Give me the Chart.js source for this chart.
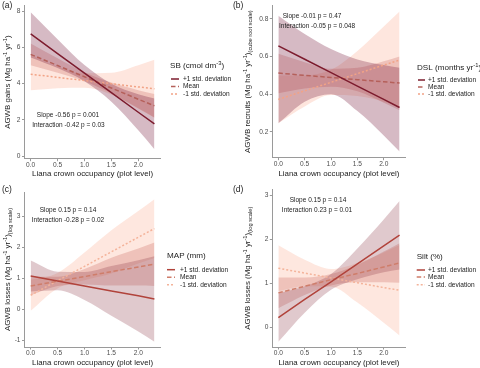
<!DOCTYPE html>
<html><head><meta charset="utf-8">
<script src="https://cdn.jsdelivr.net/npm/chart.js@4/dist/chart.umd.min.js"></script>
<style>
html,body{margin:0;padding:0;background:#fff;width:480px;height:368px;overflow:hidden;position:relative}
.p{position:absolute}
canvas{display:block}
</style></head><body>
<div class="p" style="left:0;top:0"><canvas id="ca" width="240" height="184"></canvas></div>
<div class="p" style="left:232px;top:0"><canvas id="cb" width="248" height="184"></canvas></div>
<div class="p" style="left:0;top:184px"><canvas id="cc" width="240" height="184"></canvas></div>
<div class="p" style="left:232px;top:184px"><canvas id="cd" width="248" height="184"></canvas></div>
<script>
// ---------- shared ----------
const xGrid = [0, 0.5, 1.0, 1.5, 2.0, 2.3];
const xTicks = [0, 0.5, 1.0, 1.5, 2.0];
const seriesNames = ['+1 std. deviation', 'Mean', '-1 std. deviation'];
const xTitle = 'Liana crown occupancy (plot level)';

// ---------- panel (a) ----------
const aPlus    = [6.75, 5.66, 4.58, 3.50, 2.42, 1.78];
const aPlusHi  = [7.95, 6.46, 5.03, 4.00, 3.42, 3.18];
const aPlusLo  = [5.45, 4.86, 4.13, 3.00, 1.42, 0.38];
const aMean    = [5.62, 5.00, 4.38, 3.76, 3.14, 2.78];
const aMeanHi  = [6.22, 5.40, 4.63, 4.06, 3.64, 3.43];
const aMeanLo  = [5.02, 4.60, 4.13, 3.46, 2.64, 2.13];
const aMinus   = [4.52, 4.35, 4.17, 4.00, 3.82, 3.72];
const aMinusHi = [5.60, 4.95, 4.57, 4.60, 5.02, 5.32];
const aMinusLo = [3.64, 3.75, 3.77, 3.40, 2.62, 2.12];
const aYTicks  = [0, 2, 4, 6, 8];

// ---------- panel (b) ----------
const bPlus    = [0.657, 0.586, 0.515, 0.443, 0.372, 0.329];
const bPlusHi  = [0.817, 0.720, 0.640, 0.585, 0.555, 0.540];
const bPlusLo  = [0.245, 0.360, 0.400, 0.310, 0.180, 0.095];
const bMean    = [0.512, 0.500, 0.489, 0.477, 0.466, 0.459];
const bMeanHi  = [0.615, 0.570, 0.535, 0.540, 0.575, 0.600];
const bMeanLo  = [0.405, 0.430, 0.440, 0.415, 0.355, 0.315];
const bMinus   = [0.372, 0.418, 0.463, 0.509, 0.555, 0.581];
const bMinusHi = [0.500, 0.500, 0.530, 0.630, 0.760, 0.840];
const bMinusLo = [0.245, 0.335, 0.395, 0.390, 0.360, 0.330];
const bYTicks  = [0.2, 0.4, 0.6, 0.8];

// ---------- panel (c) ----------
const cPlus    = [1.07, 0.91, 0.75, 0.59, 0.43, 0.33];
const cPlusHi  = [1.57, 1.21, 1.20, 1.39, 1.58, 1.71];
const cPlusLo  = [0.57, 0.61, 0.30, -0.21, -0.72, -1.05];
const cMean    = [0.75, 0.90, 1.05, 1.21, 1.36, 1.45];
const cMeanHi  = [1.05, 1.05, 1.30, 1.66, 1.96, 2.15];
const cMeanLo  = [0.45, 0.75, 0.80, 0.76, 0.76, 0.75];
const cMinus   = [0.45, 0.92, 1.38, 1.85, 2.32, 2.60];
const cMinusHi = [0.95, 1.17, 1.83, 2.55, 3.17, 3.55];
const cMinusLo = [-0.05, 0.67, 0.93, 1.15, 1.47, 1.65];
const cYTicks  = [-1, 0, 1, 2, 3];

// ---------- panel (d) ----------
const dPlus    = [0.22, 0.63, 1.03, 1.44, 1.85, 2.09];
const dPlusHi  = [0.77, 0.93, 1.21, 1.79, 2.45, 2.87];
const dPlusLo  = [-0.33, 0.33, 0.85, 1.09, 1.25, 1.31];
const dMean    = [0.78, 0.93, 1.08, 1.22, 1.37, 1.46];
const dMeanHi  = [1.13, 1.13, 1.21, 1.42, 1.72, 1.91];
const dMeanLo  = [0.43, 0.73, 0.95, 1.02, 1.02, 1.01];
const dMinus   = [1.34, 1.23, 1.12, 1.01, 0.90, 0.84];
const dMinusHi = [1.86, 1.53, 1.32, 1.46, 1.70, 1.87];
const dMinusLo = [0.82, 0.93, 0.92, 0.56, 0.10, -0.19];
const dYTicks  = [0, 1, 2, 3];

const FONT = "'Liberation Sans', Arial, Helvetica, sans-serif";

function segFont(size, k) {
  const s = k === 'n' ? size : size * 0.72;
  return s + 'px ' + FONT;
}
function drawRich(ctx, segs, x, y, size, color, rot, align) {
  ctx.save();
  ctx.translate(x, y);
  if (rot) ctx.rotate(rot);
  const widths = segs.map(s => { ctx.font = segFont(size, s[0]); return ctx.measureText(s[1]).width; });
  const total = widths.reduce((a, b) => a + b, 0);
  let cx = align === 'center' ? -total / 2 : 0;
  ctx.fillStyle = color;
  ctx.textBaseline = 'alphabetic';
  ctx.textAlign = 'left';
  const base = size * 0.36;
  segs.forEach((s, i) => {
    ctx.font = segFont(size, s[0]);
    const dy = s[0] === 'sup' ? -size * 0.42 : s[0] === 'sub' ? size * 0.28 : 0;
    ctx.fillText(s[1], cx, base + dy);
    cx += widths[i];
  });
  ctx.restore();
}

function pts(arr) { return xGrid.map((x, i) => ({x: x, y: arr[i]})); }

function makePanel(P) {
  const specs = [
    {line: P.plus, lo: P.plusLo, hi: P.plusHi, dash: []},
    {line: P.mean, lo: P.meanLo, hi: P.meanHi, dash: [4.5, 2.5]},
    {line: P.minus, lo: P.minusLo, hi: P.minusHi, dash: [2, 2]}
  ];
  const ds = [];
  specs.forEach((s, i) => ds.push({
    label: seriesNames[i], isLine: true, data: pts(s.line), borderColor: P.colors[i],
    borderDash: s.dash, borderWidth: 1.5, pointRadius: 0, fill: false, order: 0, tension: 0
  }));
  specs.forEach((s, i) => {
    const loIdx = ds.length;
    ds.push({label: 'lo' + i, data: pts(s.lo), borderColor: 'transparent', borderWidth: 0,
      pointRadius: 0, fill: false, order: 1, cubicInterpolationMode: 'monotone'});
    ds.push({label: 'hi' + i, data: pts(s.hi), borderColor: 'transparent', borderWidth: 0,
      pointRadius: 0, fill: loIdx, backgroundColor: P.ribbons[i], order: 1, cubicInterpolationMode: 'monotone'});
  });

  const overlay = {
    id: 'overlay',
    afterDraw(chart) {
      const ctx = chart.ctx;
      const ca = chart.chartArea;
      ctx.save();
      ctx.font = '8.5px ' + FONT; ctx.fillStyle = '#222'; ctx.textBaseline = 'middle'; ctx.textAlign = 'left';
      ctx.fillText(P.tag, P.tagX, P.tagY);
      ctx.restore();
      drawRich(ctx, P.yTitle, P.yTitleX, (ca.top + ca.bottom) / 2, 7.9, '#222', -Math.PI / 2, 'center');
      ctx.save();
      ctx.font = '6.5px ' + FONT; ctx.fillStyle = '#222'; ctx.textBaseline = 'middle'; ctx.textAlign = 'center';
      P.notes.forEach(n => ctx.fillText(n[0], n[1], n[2]));
      ctx.restore();
      const L = P.legend;
      drawRich(ctx, L.title, L.x, L.y, 8.1, '#222', 0, 'left');
      chart.data.datasets.filter(d => d.isLine).forEach((d, i) => {
        const yy = L.rows[i];
        ctx.save();
        ctx.strokeStyle = d.borderColor; ctx.lineWidth = 1.5;
        ctx.setLineDash(d.borderDash);
        ctx.beginPath(); ctx.moveTo(L.kx0, yy); ctx.lineTo(L.kx1, yy); ctx.stroke();
        ctx.restore();
        ctx.save();
        ctx.font = '6.6px ' + FONT; ctx.fillStyle = '#222'; ctx.textBaseline = 'middle'; ctx.textAlign = 'left';
        ctx.fillText(d.label, L.tx, yy);
        ctx.restore();
      });
    }
  };

  const axisCommon = {
    grid: {display: true, drawOnChartArea: false, drawTicks: true, tickLength: 2.5, color: '#9a9a9a', lineWidth: 1},
    border: {display: true, color: '#9a9a9a', width: 1}
  };

  new Chart(document.getElementById(P.canvas), {
    type: 'line',
    data: {datasets: ds},
    options: {
      responsive: false, animation: false, devicePixelRatio: 1,
      layout: {padding: {left: 0, right: P.padRight, top: P.padTop, bottom: 0}},
      plugins: {legend: {display: false}, tooltip: {enabled: false}},
      scales: {
        x: Object.assign({}, axisCommon, {
          type: 'linear', min: -0.115, max: 2.415,
          afterBuildTicks: s => { s.ticks = xTicks.map(v => ({value: v})); },
          afterFit: s => { s.height = P.xH; },
          ticks: {font: {size: 6.6, family: FONT}, color: '#4d4d4d', padding: 0, maxRotation: 0, autoSkip: false,
                  callback: v => Number(v).toFixed(1)},
          title: {display: true, text: xTitle, font: {size: 7.9, family: FONT}, color: '#222',
                  padding: {top: 0, bottom: P.xTitlePad}}
        }),
        y: Object.assign({}, axisCommon, {
          type: 'linear', min: P.yMin, max: P.yMax,
          afterBuildTicks: s => { s.ticks = P.yTicks.map(v => ({value: v})); },
          afterFit: s => { s.width = P.yW; },
          ticks: {font: {size: 6.6, family: FONT}, color: '#4d4d4d', padding: 1.5, autoSkip: false,
                  callback: v => Number(v).toFixed(P.yDec)}
        })
      }
    },
    plugins: [overlay]
  });
}

const palAB = ['#7d1c2e', '#b5605a', '#f2a386'];
const ribAB = ['rgba(120,25,60,0.3)', 'rgba(200,100,95,0.28)', 'rgba(250,165,135,0.28)'];
const palCD = ['#b1433b', '#cf7d6a', '#f4b39a'];
const ribCD = ['rgba(135,45,60,0.26)', 'rgba(200,100,90,0.28)', 'rgba(250,170,140,0.28)'];

const yTitleGains = [['n', 'AGWB gains (Mg ha'], ['sup', '-1'], ['n', ' yr'], ['sup', '-1'], ['n', ')']];
const yTitleRecruits = [['n', 'AGWB recruits (Mg ha'], ['sup', '-1'], ['n', ' yr'], ['sup', '-1'], ['n', ')'], ['sub', '(cube root scale)']];
const yTitleLosses = [['n', 'AGWB losses (Mg ha'], ['sup', '-1'], ['n', ' yr'], ['sup', '-1'], ['n', ')'], ['sub', '(log scale)']];

makePanel({
  canvas: 'ca', tag: '(a)', tagX: 2, tagY: 6,
  plus: aPlus, plusHi: aPlusHi, plusLo: aPlusLo, mean: aMean, meanHi: aMeanHi, meanLo: aMeanLo,
  minus: aMinus, minusHi: aMinusHi, minusLo: aMinusLo,
  colors: palAB, ribbons: ribAB,
  yMin: -0.145, yMax: 8.32, yTicks: aYTicks, yDec: 0,
  yW: 24.5, padRight: 79.4, padTop: 1, xH: 25.3, xTitlePad: 5.6,
  yTitle: yTitleGains, yTitleX: 7,
  notes: [['Slope -0.56 p = 0.001', 68, 115], ['Interaction -0.42 p = 0.03', 68.5, 125]],
  legend: {title: [['n', 'SB (cmol dm'], ['sup', '-3'], ['n', ')']], x: 170, y: 65, rows: [79, 86.5, 94], kx0: 171, kx1: 179, tx: 183}
});
makePanel({
  canvas: 'cb', tag: '(b)', tagX: 1, tagY: 6,
  plus: bPlus, plusHi: bPlusHi, plusLo: bPlusLo, mean: bMean, meanHi: bMeanHi, meanLo: bMeanLo,
  minus: bMinus, minusHi: bMinusHi, minusLo: bMinusLo,
  colors: palAB, ribbons: ribAB,
  yMin: 0.062, yMax: 0.872, yTicks: bYTicks, yDec: 1,
  yW: 40.3, padRight: 74.4, padTop: 1, xH: 26.3, xTitlePad: 5.6,
  yTitle: yTitleRecruits, yTitleX: 15,
  notes: [['Slope -0.01 p = 0.47', 80, 16], ['Interaction -0.05 p = 0.048', 85, 26]],
  legend: {title: [['n', 'DSL (months yr'], ['sup', '-1'], ['n', ')']], x: 185, y: 67, rows: [80, 87, 94], kx0: 186, kx1: 193, tx: 196}
});
makePanel({
  canvas: 'cc', tag: '(c)', tagX: 2, tagY: 6,
  plus: cPlus, plusHi: cPlusHi, plusLo: cPlusLo, mean: cMean, meanHi: cMeanHi, meanLo: cMeanLo,
  minus: cMinus, minusHi: cMinusHi, minusLo: cMinusLo,
  colors: palCD, ribbons: ribCD,
  yMin: -1.22, yMax: 3.78, yTicks: cYTicks, yDec: 0,
  yW: 24.5, padRight: 79.4, padTop: 8, xH: 21, xTitlePad: 0.3,
  yTitle: yTitleLosses, yTitleX: 7,
  notes: [['Slope 0.15 p = 0.14', 68, 26], ['Interaction -0.28 p = 0.02', 68, 36.7]],
  legend: {title: [['n', 'MAP (mm)']], x: 167, y: 70.7, rows: [85.7, 93.3, 100.7], kx0: 167, kx1: 175, tx: 180}
});
makePanel({
  canvas: 'cd', tag: '(d)', tagX: 1, tagY: 6,
  plus: dPlus, plusHi: dPlusHi, plusLo: dPlusLo, mean: dMean, meanHi: dMeanHi, meanLo: dMeanLo,
  minus: dMinus, minusHi: dMinusHi, minusLo: dMinusLo,
  colors: palCD, ribbons: ribCD,
  yMin: -0.45, yMax: 3.13, yTicks: dYTicks, yDec: 0,
  yW: 40.3, padRight: 74.4, padTop: 3, xH: 21, xTitlePad: 0.3,
  yTitle: yTitleLosses, yTitleX: 15,
  notes: [['Slope 0.15 p = 0.14', 86, 16], ['Interaction 0.23 p = 0.01', 85, 26]],
  legend: {title: [['n', 'Silt (%)']], x: 184.7, y: 71.7, rows: [86, 93, 100.7], kx0: 184.7, kx1: 193, tx: 196}
});
</script>
</body></html>
